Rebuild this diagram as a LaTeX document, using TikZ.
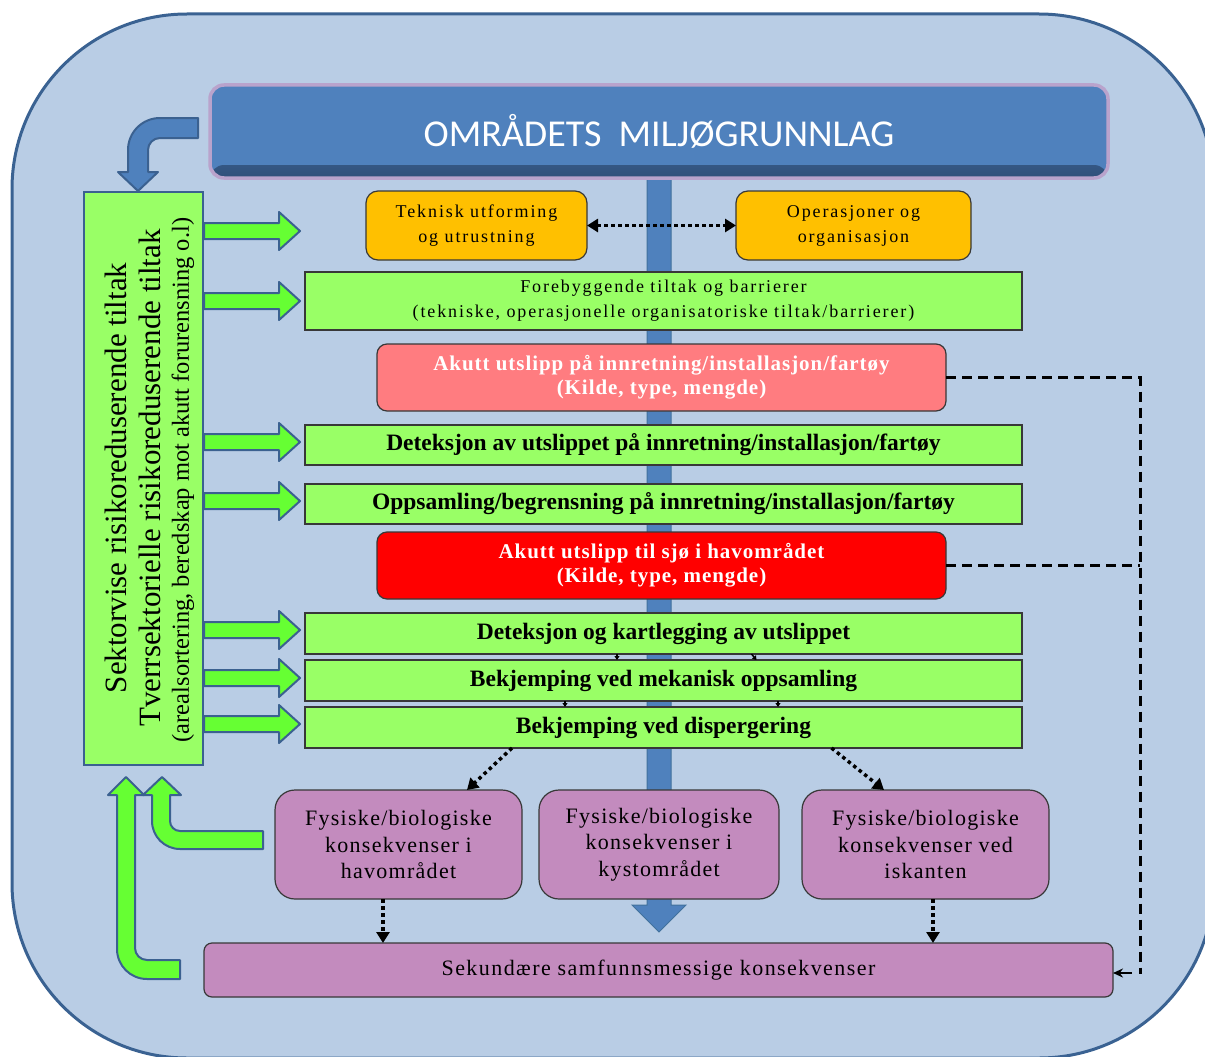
\documentclass[tikz,border=0pt]{standalone}
\usepackage{fontspec}
\setmainfont{Liberation Serif}
\newfontfamily\titlefont{Carlito}
\usetikzlibrary{arrows.meta,calc}

\definecolor{bgblue}{HTML}{B9CDE5}
\definecolor{bgedge}{HTML}{3A6292}
\definecolor{titleblue}{HTML}{4F81BD}
\definecolor{titledark}{HTML}{30507A}
\definecolor{titleedge}{HTML}{B9A3CC}
\definecolor{spineedge}{HTML}{41719C}
\definecolor{boxorange}{HTML}{FFC000}
\definecolor{boxgreen}{HTML}{99FF66}
\definecolor{arrowgreen}{HTML}{66FF33}
\definecolor{arrowedge}{HTML}{3B6190}
\definecolor{boxpink}{HTML}{FF7C80}
\definecolor{boxred}{HTML}{FF0000}
\definecolor{boxpurple}{HTML}{C38BBE}
\definecolor{boxedge}{HTML}{383838}

% font set-ups (sizes in pt, one pt per unit of the picture)
\newcommand\fsTitle{\titlefont\fontsize{38}{40}\selectfont}
\newcommand\fsSpaced{\fontsize{18}{25}\selectfont\addfontfeature{LetterSpace=10.5}}
\newcommand\fsAlert{\fontsize{21}{24}\selectfont\bfseries\addfontfeature{LetterSpace=4.5}}
\newcommand\fsStep{\fontsize{23.5}{27}\selectfont\bfseries}
\newcommand\fsEffect{\fontsize{22}{26.5}\selectfont\addfontfeature{LetterSpace=5.8}}
\newcommand\fsSecond{\fontsize{22}{26}\selectfont\addfontfeature{LetterSpace=6.5}}
\newcommand\fsSideA{\fontsize{31}{34}\selectfont}
\newcommand\fsSideB{\fontsize{24.5}{28}\selectfont}

\tikzset{
  every node/.style={inner sep=0pt, outer sep=0pt},
  basebox/.style={draw=boxedge, line width=1.2pt, align=center, text=black},
  titlebox/.style={draw=titleedge, line width=3.5pt, fill=titleblue, rounded corners=14pt,
    minimum width=898pt, minimum height=93pt, text=white, font=\fsTitle,
    path picture={\shade[top color=titleblue, bottom color=titledark]
      ($(path picture bounding box.south west)+(0,-13)$) rectangle (path picture bounding box.south east);}},
  obox/.style={basebox, fill=boxorange, rounded corners=12pt, minimum width=221pt,
    minimum height=69pt, font=\fsSpaced},
  gbox/.style={basebox, fill=boxgreen, minimum width=717pt},
  notebox/.style={gbox, minimum height=58pt, font=\fsSpaced},
  stepbox/.style={gbox, minimum height=41pt, font=\fsStep},
  alertbox/.style={basebox, rounded corners=10pt, minimum width=569pt, minimum height=67pt,
    text=white, font=\fsAlert},
  effectbox/.style={basebox, fill=boxpurple, rounded corners=20pt, minimum height=109pt,
    font=\fsEffect},
  sidebox/.style={draw=arrowedge, line width=2pt, fill=boxgreen},
  spine/.style={fill=titleblue, draw=spineedge, line width=1pt},
  bluebent/.style={fill=titleblue, draw=arrowedge, line width=2pt, line join=round},
  greenblock/.style={fill=arrowgreen, draw=arrowedge, line width=2pt, line join=round},
  dotline/.style={draw=black, line width=3.5pt, dash pattern=on 3.5pt off 3.5pt},
  dotarrow/.style={dotline, -{Triangle[length=11pt,width=13pt]}},
  dotboth/.style={dotline, {Triangle[length=11pt,width=13pt]}-{Triangle[length=11pt,width=13pt]}},
  tickarrow/.style={draw=black, line width=1.5pt, -{Triangle[length=4pt,width=5pt]}},
  dashline/.style={draw=black, line width=3pt, dash pattern=on 10pt off 6pt},
  feedarrow/.style={draw=black, line width=2pt, -{Stealth[length=10pt,width=9pt]}},
  rightarrow/.pic={\draw[greenblock] (0,-8) -- (75,-8) -- (75,-19) -- (96,0) -- (75,19)
    -- (75,8) -- (0,8) -- cycle;}
}

\begin{document}
\begin{tikzpicture}[x=1pt,y=-1pt]
\useasboundingbox (0,0) rectangle (1205,1057);

% rounded background panel
\begin{scope}
  \clip (0,0) rectangle (1205,1057);
  \draw[fill=bgblue, draw=bgedge, line width=3pt, rounded corners=175pt]
    (12,14) rectangle (1214,1058);
\end{scope}

% central flow spine ending in a down arrow
\draw[spine] (647,178) -- (647,905) -- (632,905) -- (659,932) -- (686,905)
  -- (671,905) -- (671,178) -- cycle;

% heading
\node[titlebox] (title) at (659,131.5) {OMRÅDETS\hspace{0.45em}MILJØGRUNNLAG};

% bent arrow from the heading down to the side panel
\draw[bluebent] (198,118) -- (160,118) .. controls (142.3,118) and (128,132.3) .. (128,150)
  -- (128,172) -- (118,172) -- (138,191) -- (158,172) -- (148,172) -- (148,150)
  .. controls (148,143.4) and (153.4,138) .. (160,138) -- (198,138) -- cycle;

% side panel with measures
\node[sidebox, minimum width=119pt, minimum height=573pt] (side) at (143.5,478.5) {};
\node[rotate=90, font=\fsSideA] (sideA) at (115.5,478) {Sektorvise risikoreduserende tiltak};
\node[rotate=90, font=\fsSideA] (sideB) at (150,478) {Tverrsektorielle risikoreduserende tiltak};
\node[rotate=90, font=\fsSideB] (sideC) at (183,480) {(arealsortering, beredskap mot akutt forurensning o.l)};

% block arrows from the side panel into the chain
\foreach \yy in {231,301,442,501,630,678,724}
  \pic at (204,\yy) {rightarrow};

% feedback arrows from the consequences back to the side panel
\draw[greenblock] (263,831) -- (180,831) .. controls (174.5,831) and (170,826.5) .. (170,821)
  -- (170,795) -- (181,795) -- (162,777) -- (143,795) -- (152,795) -- (152,821)
  .. controls (152,836.5) and (164.5,849) .. (180,849) -- (263,849) -- cycle;
\draw[greenblock] (180,960) -- (147,960) .. controls (140.4,960) and (135,954.6) .. (135,948)
  -- (135,795) -- (144,795) -- (126,777) -- (108,795) -- (117,795) -- (117,949)
  .. controls (117,965.6) and (130.4,979) .. (147,979) -- (180,979) -- cycle;

% top pair
\node[obox] (tek) at (476.5,225.5) {Teknisk utforming\\og utrustning};
\node[obox, minimum width=235pt] (ops) at (853.5,225.5) {Operasjoner og\\organisasjon};

% chain of events and measures
\node[notebox] (fore) at (663.5,301) {Forebyggende tiltak og barrierer\\(tekniske, operasjonelle organisatoriske tiltak/barrierer)};
\node[alertbox, fill=boxpink] (inst) at (661.5,377.5) {Akutt utslipp på innretning/installasjon/fartøy\\(Kilde, type, mengde)};
\node[stepbox, minimum height=40pt] (detA) at (663.5,445) {Deteksjon av utslippet på innretning/installasjon/fartøy};
\node[stepbox, minimum height=40pt] (opps) at (663.5,504) {Oppsamling/begrensning på innretning/installasjon/fartøy};
\node[alertbox, fill=boxred] (sea) at (661.5,565.5) {Akutt utslipp til sjø i havområdet\\(Kilde, type, mengde)};
\node[stepbox] (kart) at (663.5,633.5) {Deteksjon og kartlegging av utslippet};
\node[stepbox] (mek) at (663.5,680.5) {Bekjemping ved mekanisk oppsamling};
\node[stepbox] (disp) at (663.5,727.5) {Bekjemping ved dispergering};

% consequences
\node[effectbox, minimum width=247pt] (hav) at (398.5,844.5) {Fysiske/biologiske\\konsekvenser i\\havområdet};
\node[effectbox, minimum width=240pt] (kyst) at (659,844.5) {Fysiske/biologiske\\konsekvenser i\\kystområdet};
\node[effectbox, minimum width=247pt] (isk) at (925.5,844.5) {Fysiske/biologiske\\konsekvenser ved\\iskanten};
\node[basebox, fill=boxpurple, rounded corners=8pt, minimum width=909pt, minimum height=54pt,
  font=\fsSecond] (sek) at (658.5,970) {Sekundære samfunnsmessige konsekvenser};

% dotted links
\draw[dotboth] (tek.east) -- (ops.west);
\draw[dotarrow] ([xshift=-151.5pt]disp.south) -- ([xshift=68.5pt]hav.north);
\draw[dotarrow] ([xshift=168pt]disp.south) -- ([xshift=-41.5pt]isk.north);
\draw[dotarrow] ([xshift=-15.5pt]hav.south) -- ([xshift=-15.5pt]hav.south |- sek.north);
\draw[dotarrow] ([xshift=7.5pt]isk.south) -- ([xshift=7.5pt]isk.south |- sek.north);

% small links between the response steps
\draw[tickarrow] ([xshift=-46.5pt]kart.south) -- ([xshift=-46.5pt]mek.north);
\draw[tickarrow] ([xshift=88pt]kart.south) -- ([xshift=93pt]mek.north);
\draw[tickarrow] ([xshift=-98.5pt]mek.south) -- ([xshift=-98.5pt]disp.north);
\draw[tickarrow] ([xshift=114.5pt]mek.south) -- ([xshift=114.5pt]disp.north);

% dashed links from the spills to the secondary consequences
\coordinate (rail) at (1140,0);
\draw[dashline] (inst.east) -- (inst.east -| rail) -- ([yshift=-4pt]rail |- sek.east);
\draw[dashline] (sea.east) -- (sea.east -| rail);
\draw[feedarrow] ([xshift=19pt,yshift=-3pt]sek.east) -- ([yshift=-3pt]sek.east);

\end{tikzpicture}
\end{document}
